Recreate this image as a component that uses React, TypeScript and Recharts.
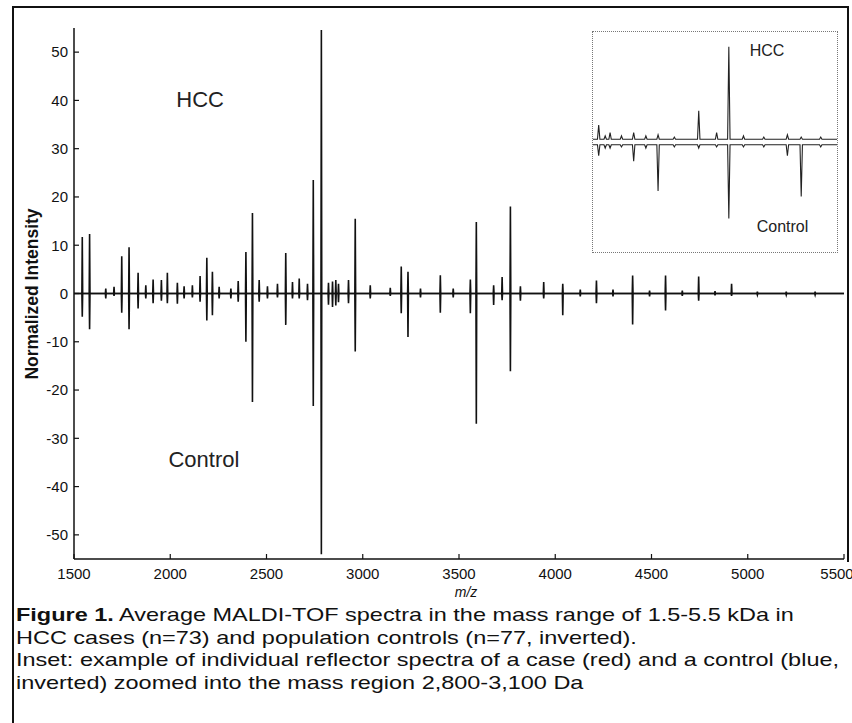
import React from "react";
import { LineChart, Line, XAxis, YAxis, ReferenceDot } from "recharts";

// ---------- main spectrum (average MALDI-TOF) ----------
const peakMz = [
  1543, 1581, 1665, 1708, 1748, 1786, 1833, 1873, 1911, 1954,
  1985, 2037, 2072, 2115, 2155, 2190, 2219, 2254, 2315, 2353,
  2393, 2427, 2462, 2505, 2557, 2600, 2635, 2670, 2713, 2743,
  2785, 2822, 2843, 2860, 2874, 2926, 2961, 3039, 3143, 3200,
  3235, 3300, 3403, 3470, 3559, 3590, 3680, 3724, 3767, 3819,
  3940, 4039, 4130, 4214, 4300, 4402, 4490, 4573, 4660, 4745,
  4830, 4916, 5050, 5200, 5350,
];
const hccIntensity = [
  11.7, 12.3, 1, 1.4, 7.7, 9.6, 4.3, 1.7, 2.9, 2.8,
  4.3, 2.2, 1.5, 1.7, 3.6, 7.4, 4.5, 1.4, 1, 2.6,
  8.6, 16.7, 2.8, 1.5, 2, 8.4, 2.4, 3.1, 2, 23.5,
  54.6, 2.2, 2.5, 2.8, 2.0, 2.8, 15.5, 1.7, 1.2, 5.6,
  4.5, 1.0, 3.8, 1.0, 2.9, 14.8, 1.7, 3.4, 18, 1.5,
  2.4, 2.0, 0.8, 2.7, 0.8, 3.7, 0.6, 3.7, 0.6, 3.5,
  0.5, 2.0, 0.4, 0.4, 0.4,
];
const controlIntensity = [
  4.8, 7.4, 1, 0.5, 4, 7.4, 3.1, 1, 2, 1.5,
  2, 2.1, 1, 0.8, 1.7, 5.6, 4.5, 1, 1, 1.7,
  10, 22.5, 1.7, 1, 0.8, 6.5, 1, 1, 1.4, 23.3,
  54, 2.3, 2.8, 2.5, 1.8, 2, 12, 1, 0.5, 4.1,
  9, 0.8, 4, 0.8, 4.1, 27, 2.4, 1.4, 16.1, 1.5,
  1, 4.5, 0.6, 2, 0.6, 6.4, 0.6, 3.5, 0.5, 1.5,
  0.4, 0.5, 0.3, 0.3, 0.3,
];
const xTicks = [1500, 2000, 2500, 3000, 3500, 4000, 4500, 5000, 5500];
const yTicks = [-50, -40, -30, -20, -10, 0, 10, 20, 30, 40, 50];
const xDomain: [number, number] = [1500, 5500];
const yDomain: [number, number] = [-55, 55];

// ---------- inset: individual reflector spectra 2,800-3,100 Da ----------
const insetMz = [2807, 2815, 2821, 2835, 2850, 2865, 2880, 2900, 2930, 2952, 2967, 2985, 3010, 3039, 3056, 3080];
const insetCase = [1.3, 0.3, 0.6, 0.3, 0.6, 0.3, 0.4, 0.2, 2.6, 0.6, 8.4, 0.3, 0.2, 0.4, 0.2, 0.2];
const insetControl = [1.0, 0.3, 0.3, 0.2, 1.5, 0.3, 4.2, 0.2, 0.3, 0.2, 6.7, 0.2, 0.2, 1.0, 4.7, 0.2];
const insetXTicks = [2800, 2850, 2900, 2950, 3000, 3050, 3100];
const insetYTicks = [-7, -3.5, 3.5, 7];
const insetXDomain: [number, number] = [2800, 3100];
const insetYDomain: [number, number] = [-10, 10];
const insetBaseline = 0.25;

const captionLines = [
  ["Figure 1.", " Average MALDI-TOF spectra in the mass range of 1.5-5.5 kDa in"],
  ["", "HCC cases (n=73) and population controls (n=77, inverted)."],
  ["", "Inset: example of individual reflector spectra of a case (red) and a control (blue,"],
  ["", "inverted) zoomed into the mass region 2,800-3,100 Da"],
];

function buildSpectrum(mz: number[], vals: number[], sign: number, domain: [number, number], halfWidth: number, base: number) {
  const pts: { mz: number; v: number }[] = [{ mz: domain[0], v: base }];
  mz.forEach((m, i) => {
    pts.push({ mz: m - halfWidth, v: base });
    pts.push({ mz: m, v: base + sign * vals[i] });
    pts.push({ mz: m + halfWidth, v: base });
  });
  pts.push({ mz: domain[1], v: base });
  return pts;
}

const hccData = buildSpectrum(peakMz, hccIntensity, 1, xDomain, 2, 0);
const controlData = buildSpectrum(peakMz, controlIntensity, -1, xDomain, 2, 0);
const insetCaseData = buildSpectrum(insetMz, insetCase, 1, insetXDomain, 1.5, insetBaseline);
const insetControlData = buildSpectrum(insetMz, insetControl, -1, insetXDomain, 1.5, -insetBaseline);

const FONT = "'Liberation Sans', Arial, Helvetica, sans-serif";
const INK = "#111";

export default function App() {
  const tickStyle = { fontSize: 15, fill: INK, fontFamily: FONT };
  return (
    <div style={{ position: "absolute", left: 0, top: 0, width: 852, height: 723, background: "#fff", fontFamily: FONT, overflow: "hidden" }}>
      {/* outer frame */}
      <div style={{ position: "absolute", left: 12, top: 6, width: 1.5, height: 717, background: INK }} />
      <div style={{ position: "absolute", left: 12, top: 6, width: 836, height: 1.5, background: INK }} />
      <div style={{ position: "absolute", left: 847, top: 6, width: 1.5, height: 556, background: INK }} />

      <div style={{ position: "absolute", left: 0, top: 0 }}>
        <LineChart width={852} height={600} margin={{ top: 28, right: 8, left: 0, bottom: 11 }}>
          <XAxis
            xAxisId={0}
            type="number"
            dataKey="mz"
            domain={xDomain}
            ticks={xTicks}
            allowDataOverflow
            height={30}
            tick={tickStyle}
            tickSize={-5}
            tickMargin={14}
            axisLine={{ stroke: INK, strokeWidth: 1.5 }}
            tickLine={{ stroke: INK, strokeWidth: 1.2 }}
          />
          <XAxis
            xAxisId="top"
            orientation="top"
            type="number"
            domain={xDomain}
            ticks={xTicks}
            allowDataOverflow
            height={0}
            tick={false}
            tickSize={-5}
            axisLine={{ stroke: INK, strokeWidth: 1.5 }}
            tickLine={{ stroke: INK, strokeWidth: 1.2 }}
          />
          <YAxis
            yAxisId={0}
            type="number"
            domain={yDomain}
            ticks={yTicks}
            allowDataOverflow
            width={74}
            tick={tickStyle}
            tickSize={-5}
            tickMargin={11}
            axisLine={{ stroke: INK, strokeWidth: 1.5 }}
            tickLine={{ stroke: INK, strokeWidth: 1.2 }}
          />
          <YAxis
            yAxisId="right"
            orientation="right"
            type="number"
            domain={yDomain}
            ticks={yTicks}
            allowDataOverflow
            width={0}
            tick={false}
            tickSize={-5}
            axisLine={{ stroke: INK, strokeWidth: 1.5 }}
            tickLine={{ stroke: INK, strokeWidth: 1.2 }}
          />
          <Line data={hccData} dataKey="v" type="linear" stroke={INK} strokeWidth={1.6} dot={false} activeDot={false} isAnimationActive={false} />
          <Line data={controlData} dataKey="v" type="linear" stroke={INK} strokeWidth={1.6} dot={false} activeDot={false} isAnimationActive={false} />
          <ReferenceDot x={2155} y={40.3} r={0} stroke="none" fill="none"
            label={{ value: "HCC", position: "center", fontSize: 22, fill: "#222", fontFamily: FONT }} />
          <ReferenceDot x={2175} y={-34.3} r={0} stroke="none" fill="none"
            label={{ value: "Control", position: "center", fontSize: 22, fill: "#222", fontFamily: FONT }} />
        </LineChart>
      </div>

      {/* y axis title */}
      <div style={{ position: "absolute", left: 33, top: 294, transform: "translate(-50%, -50%) rotate(-90deg)", whiteSpace: "nowrap", fontSize: 17.5, fontWeight: "bold", color: INK, lineHeight: 1 }}>
        Normalized Intensity
      </div>
      {/* x axis title */}
      <div style={{ position: "absolute", left: 466, top: 592, transform: "translate(-50%, -50%)", whiteSpace: "nowrap", fontSize: 14, fontStyle: "italic", color: INK, lineHeight: 1 }}>
        m/z
      </div>

      {/* inset */}
      <div style={{ position: "absolute", left: 592, top: 31, width: 246, height: 222, border: "1px dotted #777", boxSizing: "border-box", background: "#fff" }}>
        <LineChart width={244} height={220} margin={{ top: 0, right: 0, left: 0, bottom: 0 }}>
          <XAxis type="number" dataKey="mz" domain={insetXDomain} ticks={insetXTicks} allowDataOverflow height={0}
            tick={false} axisLine={false} tickSize={-4} tickLine={{ stroke: "#666" }} />
          <YAxis type="number" domain={insetYDomain} ticks={insetYTicks} allowDataOverflow width={0}
            tick={false} axisLine={false} tickSize={-3} tickLine={{ stroke: "#666" }} />
          <Line data={insetCaseData} dataKey="v" type="linear" stroke="#222" strokeWidth={1.1} dot={false} activeDot={false} isAnimationActive={false} />
          <Line data={insetControlData} dataKey="v" type="linear" stroke="#222" strokeWidth={1.1} dot={false} activeDot={false} isAnimationActive={false} />
          <ReferenceDot x={3014} y={8.3} r={0} stroke="none" fill="none"
            label={{ value: "HCC", position: "center", fontSize: 16, fill: "#222", fontFamily: FONT }} />
          <ReferenceDot x={3033} y={-7.7} r={0} stroke="none" fill="none"
            label={{ value: "Control", position: "center", fontSize: 16, fill: "#222", fontFamily: FONT }} />
        </LineChart>
      </div>

      {/* caption */}
      <div style={{ position: "absolute", left: 16, top: 604, fontSize: 19, lineHeight: "22.5px", color: INK, whiteSpace: "nowrap", transform: "scaleX(1.235)", transformOrigin: "0 0" }}>
        {captionLines.map((l, i) => (
          <div key={i}>
            {l[0] ? <b>{l[0]}</b> : null}
            {l[1]}
          </div>
        ))}
      </div>
    </div>
  );
}
